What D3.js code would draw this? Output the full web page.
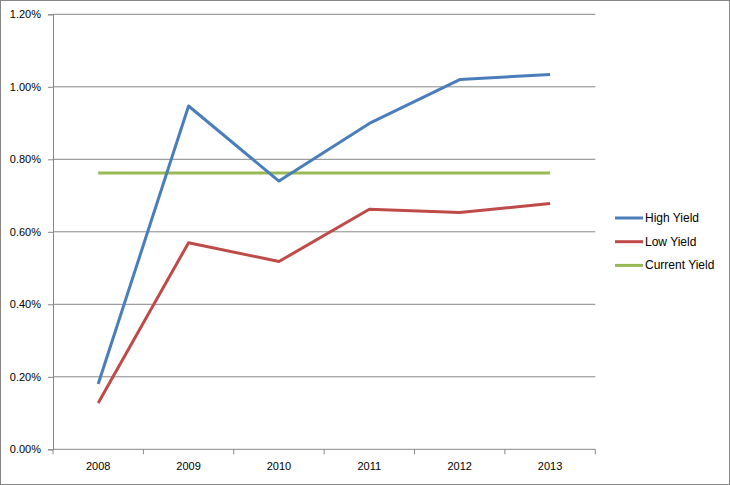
<!DOCTYPE html>
<html>
<head>
<meta charset="utf-8">
<script src="https://cdn.jsdelivr.net/npm/d3@7"></script>
<style>
  body { margin: 0; background: #fff; }
  svg text { font-family: "Liberation Sans", Arial, sans-serif; font-size: 11px; fill: #000; }
</style>
</head>
<body>
<div id="chart"></div>
<script>
// chart data
const years = ["2008", "2009", "2010", "2011", "2012", "2013"];
const highYield = [0.180, 0.947, 0.740, 0.899, 1.020, 1.034];
const lowYield = [0.128, 0.570, 0.518, 0.662, 0.653, 0.678];
const currentYield = [0.762, 0.762, 0.762, 0.762, 0.762, 0.762];
const yTicks = [0, 0.2, 0.4, 0.6, 0.8, 1.0, 1.2];
const seriesNames = ["High Yield", "Low Yield", "Current Yield"];
const seriesColors = ["#4a7ebb", "#be4b48", "#98b954"];

const W = 730, H = 485;
const margin = {top: 14.3, right: 135, bottom: 35.7, left: 53};
const width = 595.3 - margin.left,
      height = 449.3 - margin.top;

const svg = d3.select("#chart")
  .append("svg")
  .attr("width", W)
  .attr("height", H);

// outer border
svg.append("rect")
  .attr("x", 0.5).attr("y", 0.5)
  .attr("width", W - 1).attr("height", H - 1)
  .attr("fill", "#fff")
  .attr("stroke", "#868686");

const g = svg.append("g")
  .attr("transform", `translate(${margin.left}, ${margin.top})`);

const x = d3.scaleBand().domain(years).range([0, width]);
const y = d3.scaleLinear().domain([0, 1.2]).range([height, 0]);

// gridlines
g.append("g")
  .selectAll("line")
  .data(yTicks.slice(1))
  .enter()
  .append("line")
  .attr("x1", 0).attr("x2", width)
  .attr("y1", d => y(d)).attr("y2", d => y(d))
  .attr("stroke", "#868686")
  .attr("stroke-width", 1);

// y axis
const yAxis = g.append("g")
  .call(d3.axisLeft(y).tickValues(yTicks).tickSize(5).tickPadding(7)
    .tickFormat(d => d.toFixed(2) + "%"));
yAxis.select(".domain").attr("stroke", "#868686");
yAxis.selectAll(".tick line").attr("stroke", "#868686");

// x axis with ticks at band edges
const xAxis = g.append("g")
  .attr("transform", `translate(0, ${height})`);
xAxis.append("line")
  .attr("x1", 0).attr("x2", width)
  .attr("stroke", "#868686");
xAxis.selectAll(".xt")
  .data(years.concat(["end"]))
  .enter()
  .append("line")
  .attr("x1", (d, i) => i * x.bandwidth())
  .attr("x2", (d, i) => i * x.bandwidth())
  .attr("y1", 0).attr("y2", 5)
  .attr("stroke", "#868686");
xAxis.selectAll(".xl")
  .data(years)
  .enter()
  .append("text")
  .attr("text-anchor", "middle")
  .attr("x", d => x(d) + x.bandwidth() / 2)
  .attr("y", 21)
  .text(d => d);

// lines
const allSeries = [highYield, lowYield, currentYield];
const line = d3.line()
  .x((d, i) => x(years[i]) + x.bandwidth() / 2)
  .y(d => y(d));

// green first so high yield sits on top
[2, 1, 0].forEach(k => {
  g.append("path")
    .datum(allSeries[k])
    .attr("fill", "none")
    .attr("stroke", seriesColors[k])
    .attr("stroke-width", 3)
    .attr("stroke-linejoin", "round")
    .attr("d", line);
});

// legend
const legend = svg.append("g")
  .attr("transform", "translate(615, 218)");
seriesNames.forEach((name, i) => {
  const row = legend.append("g").attr("transform", `translate(0, ${i * 23.7})`);
  row.append("line")
    .attr("x1", 0).attr("x2", 28)
    .attr("stroke", seriesColors[i])
    .attr("stroke-width", 3);
  row.append("text")
    .attr("x", 30)
    .attr("y", 4)
    .style("font-size", "12px")
    .text(name);
});
</script>
</body>
</html>
